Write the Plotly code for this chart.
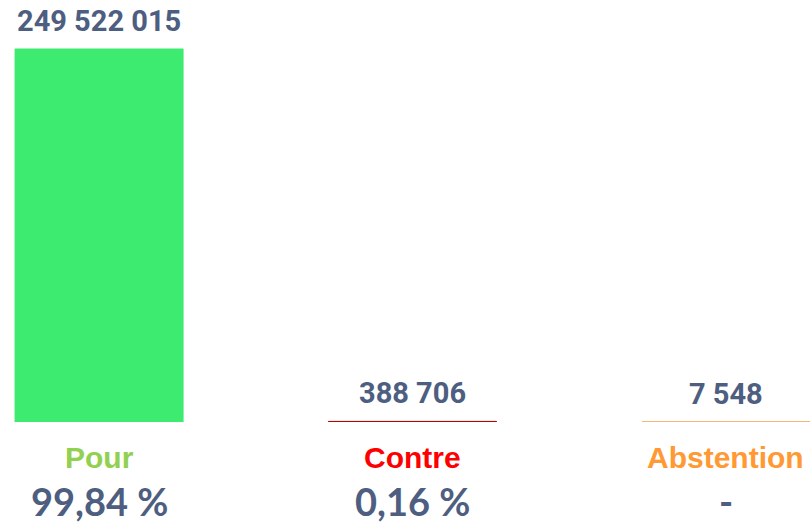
import plotly.graph_objects as go

categories = ['Pour', 'Contre', 'Abstention']
votes = [249522015, 388706, 7548]
vote_labels = ['249 522 015', '388 706', '7 548']
percent_labels = ['99,84 %', '0,16 %', '-']

bar_colors = ['#3DEB70', '#B00000', '#F5A050']
label_colors = ['#92D050', '#FF0000', '#FF9933']
text_color = '#4D5E80'

x_pos = list(range(len(categories)))

fig = go.Figure()
fig.add_trace(
    go.Bar(
        x=x_pos,
        y=votes,
        width=0.536,
        marker=dict(color=bar_colors, line=dict(color=bar_colors, width=1)),
        hoverinfo='skip',
    )
)

for i, cat in enumerate(categories):
    fig.add_annotation(
        x=i, y=votes[i], text=vote_labels[i],
        showarrow=False, yanchor='bottom', yshift=9,
        font=dict(family='Roboto', size=29, color=text_color, weight='bold'),
    )
    fig.add_annotation(
        x=i, y=0, yref='paper', text=cat,
        showarrow=False, yanchor='middle', yshift=-35,
        font=dict(family='Liberation Sans Narrow, Arial Narrow, Liberation Sans', size=30,
                  color=label_colors[i], weight='bold'),
    )
    fig.add_annotation(
        x=i, y=0, yref='paper', text=percent_labels[i],
        showarrow=False, yanchor='middle', yshift=-79, borderpad=0,
        font=dict(family='Lato', size=38, color=text_color, weight='bold'),
    )

fig.update_layout(
    template='plotly_white',
    width=810,
    height=525,
    margin=dict(l=0, r=0, t=0, b=103),
    showlegend=False,
    plot_bgcolor='white',
    paper_bgcolor='white',
)
fig.update_xaxes(range=[-0.316, 2.268], visible=False)
fig.update_yaxes(range=[0, 282300000], visible=False)

# drop the default page margin so the figure fills the window exactly
fig.write_html(
    'out.html',
    config={'displayModeBar': False},
    post_script="document.body.style.margin='0';document.body.style.overflow='hidden';",
)
